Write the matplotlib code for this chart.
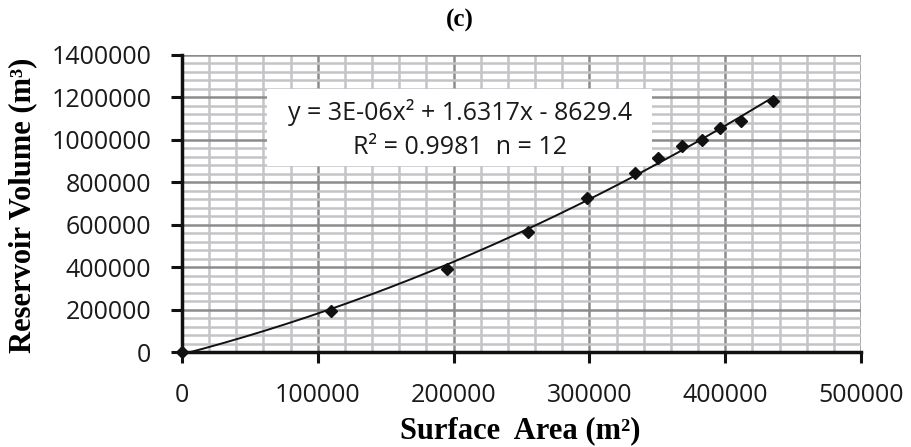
import matplotlib
matplotlib.use("Agg")
import matplotlib.pyplot as plt
import numpy as np
from matplotlib.ticker import MultipleLocator, StrMethodFormatter
from matplotlib.patches import Rectangle

# surface area (m2) vs reservoir volume (m3)
area = [0, 109600, 194900, 254600, 298300, 333300, 350200, 368100, 382800, 396300, 411500, 435500]
volume = [0, 193400, 391500, 564600, 725000, 843000, 916500, 971700, 1000000, 1055000, 1089600, 1185400]
eq_text = "y = 3E-06x\u00b2 + 1.6317x - 8629.4"
r2_text = "R\u00b2 = 0.9981  n = 12"

sans = ["Open Sans", "DejaVu Sans"]
serif = ["Liberation Serif", "DejaVu Serif"]

fig = plt.figure(figsize=(9.11, 4.47), dpi=100)
ax = fig.add_axes([182/911, 1-352/447, (861-182)/911, (352-55)/447])

ax.set_xlim(0, 500000)
ax.set_ylim(0, 1400000)
ax.xaxis.set_major_locator(MultipleLocator(100000))
ax.xaxis.set_minor_locator(MultipleLocator(20000))
ax.yaxis.set_major_locator(MultipleLocator(200000))
ax.yaxis.set_minor_locator(MultipleLocator(40000))
ax.xaxis.set_major_formatter(StrMethodFormatter("{x:.0f}"))
ax.yaxis.set_major_formatter(StrMethodFormatter("{x:.0f}"))

ax.grid(True, which='minor', color='#c4c4c8', lw=1.8, zorder=0)
ax.grid(True, which='major', color='#8c8c8c', lw=1.8, zorder=0)
ax.set_axisbelow(True)

for s in ['top', 'right']:
    ax.spines[s].set_visible(False)
for s in ['left', 'bottom']:
    ax.spines[s].set_linewidth(2.5)
    ax.spines[s].set_color('#111111')

ax.tick_params(which='major', direction='out', length=8, width=2.2, color='#111111', pad=14)
ax.tick_params(which='minor', length=0)
for lab in ax.get_xticklabels() + ax.get_yticklabels():
    lab.set_family(sans)
    lab.set_fontsize(18)
    lab.set_color('#1a1a1a')

# quadratic trendline fitted to the points
coef = np.polyfit(area, volume, 2)
xf = np.linspace(min(area), max(area), 200)
ax.plot(xf, np.polyval(coef, xf), color='#111111', lw=1.4, zorder=3)
ax.plot(area, volume, 'D', color='#111111', ms=6.5, zorder=4, clip_on=False)

# equation box
ax.add_patch(Rectangle((0.125, 0.626), 0.567, 0.26, transform=ax.transAxes,
                       facecolor='white', edgecolor='none', zorder=2))
ax.text(0.409, 0.805, eq_text, transform=ax.transAxes, ha='center', va='center',
        family=sans, fontsize=18, color='#1a1a1a', zorder=5)
ax.text(0.409, 0.69, r2_text, transform=ax.transAxes, ha='center', va='center',
        family=sans, fontsize=18, color='#1a1a1a', zorder=5)

fig.text(460/911, 1-20/447, "(c)", ha='center', va='center', family=serif,
         fontweight='bold', fontsize=18)
fig.text(23/911, 1-205/447, "Reservoir Volume (m\u00b3)", rotation=90, ha='center',
         va='center', family=serif, fontweight='bold', fontsize=22)
fig.text(520/911, 1.5/447, "Surface  Area (m\u00b2)", ha='center', va='bottom',
         family=serif, fontweight='bold', fontsize=22)

fig.savefig("out.png", dpi=100)
